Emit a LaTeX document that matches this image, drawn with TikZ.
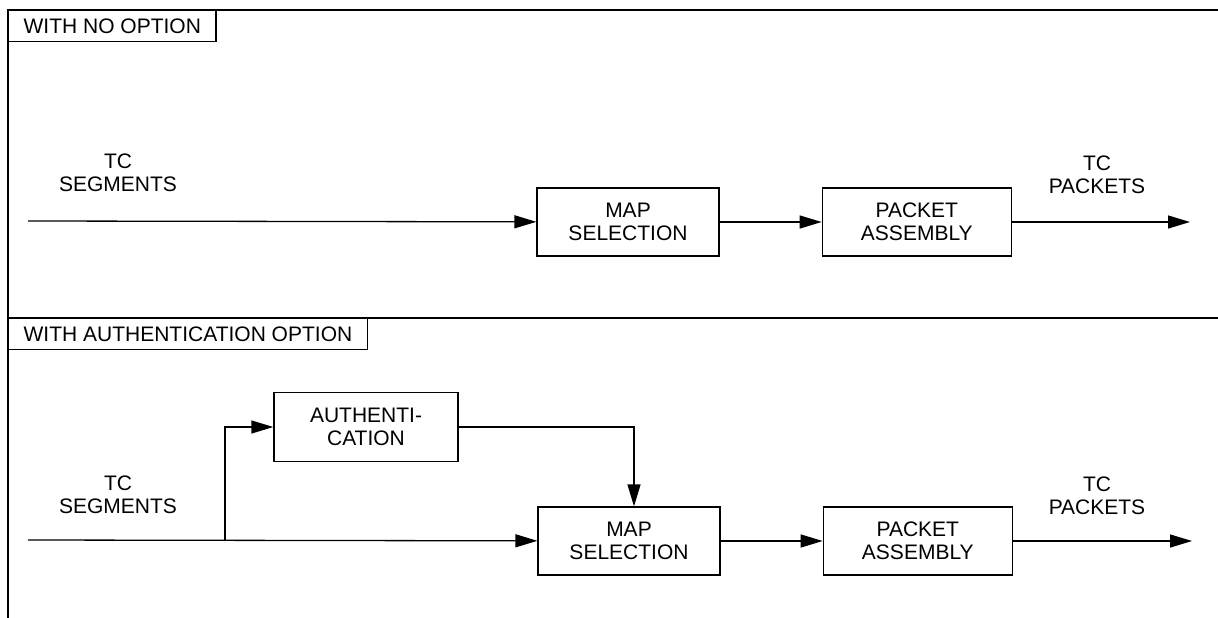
\documentclass[tikz,border=0pt]{standalone}
\usepackage{fontspec}
\setmainfont{Liberation Sans}
\usepackage{tikz}
\usetikzlibrary{arrows.meta,positioning}

\begin{document}
\begin{tikzpicture}[
  x=1pt, y=-1pt,
  font=\fontsize{21}{23}\selectfont,
  block/.style={draw, line width=1.3pt, minimum height=68pt, minimum width=184pt, inner sep=0pt, align=center},
  tag/.style={draw, line width=1.3pt, anchor=north west, minimum height=31pt, inner xsep=15pt, inner ysep=0pt},
  lbl/.style={align=center, inner sep=0pt},
  arrow/.style={-{Triangle[length=22pt, width=13pt]}, line width=1.3pt}
]
\useasboundingbox (0,0) rectangle (1218,618);
% frame
\draw[line width=1.3pt] (8,618) -- (8,10) -- (1218,10);
\draw[line width=1.3pt] (8,318) -- (1218,318);
\node[tag] (tagA) at (8,10) {WITH NO OPTION};
\node[tag] (tagB) at (8,318) {WITH AUTHENTICATION OPTION};

% no option
\coordinate (inA) at (28,221);
\node[block, minimum width=182pt] (mapA) at (628,222) {MAP\\SELECTION};
\node[block, minimum width=189pt, right=102pt of mapA] (pktA) {PACKET\\ASSEMBLY};
\coordinate (outA) at (1190,222);
\node[lbl] (segA) at (118,173) {TC\\SEGMENTS};
\node[lbl] (pktlblA) at (1097,175) {TC\\PACKETS};
\draw[arrow] (inA) -- (mapA);
\draw[arrow] (mapA) -- (pktA);
\draw[arrow] (pktA) -- (outA);

% authentication option
\coordinate (inB) at (28,540);
\coordinate (split) at (225,540);
\node[block, minimum width=182pt] (mapB) at (629,541) {MAP\\SELECTION};
\node[block, minimum width=189pt, right=102pt of mapB] (pktB) {PACKET\\ASSEMBLY};
\node[block, minimum height=69pt] (auth) at (366,427) {AUTHENTI-\\CATION};
\coordinate (outB) at (1192,541);
\node[lbl] (segB) at (118,495) {TC\\SEGMENTS};
\node[lbl] (pktlblB) at (1097,496) {TC\\PACKETS};
\draw[arrow] (inB) -- (mapB);
\draw[arrow] (split) |- (auth);
\draw[arrow] (auth) -| ([xshift=5pt]mapB.north);
\draw[arrow] (mapB) -- (pktB);
\draw[arrow] (pktB) -- (outB);
\end{tikzpicture}
\end{document}
